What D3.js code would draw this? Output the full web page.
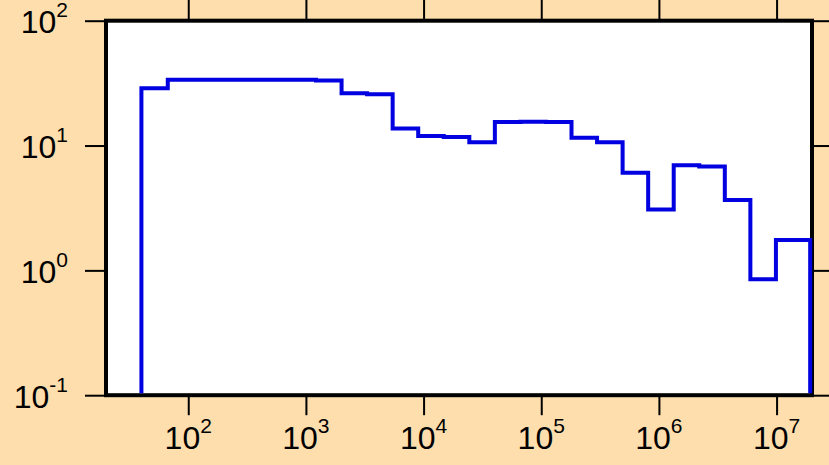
<!DOCTYPE html>
<html>
<head>
<meta charset="utf-8">
<script src="https://cdn.jsdelivr.net/npm/d3@7"></script>
<style>
  html, body { margin: 0; padding: 0; background: #fddeac; }
  svg { display: block; }
  text { font-family: "Liberation Sans", Arial, sans-serif; fill: #000; }
</style>
</head>
<body>
<svg id="chart" width="829" height="465"></svg>
<script>
// bin edges (x) and histogram heights (y)
const binEdges = [40, 67, 1218, 2009, 3312, 5460, 9002, 14841, 24469, 40343, 66514,
    109663, 180804, 298096, 491477, 810308, 1335973, 2202646, 3631550, 5987414,
    9871577, 19300000];
const binCounts = [28.8, 33.7, 33.2, 26.2, 25.8, 13.7, 11.9, 11.7, 10.6, 15.4, 15.5,
    15.4, 11.55, 10.6, 6.05, 3.08, 6.95, 6.8, 3.66, 0.847, 1.75];

const xTicks = [1e2, 1e3, 1e4, 1e5, 1e6, 1e7];
const yTicks = [1e-1, 1e0, 1e1, 1e2];

const svg = d3.select("#chart"),
    width = +svg.attr("width"),
    height = +svg.attr("height");

const plotL = 106, plotR = 812, plotT = 20.7, plotB = 395.2;

const x = d3.scaleLog().domain([20, 2e7]).range([plotL, plotR]);
const y = d3.scaleLog().domain([0.1, 100]).range([plotB, plotT]);

svg.append("rect")
    .attr("width", width).attr("height", height)
    .attr("fill", "#fddeac");

// plot area
svg.append("rect")
    .attr("x", plotL).attr("y", plotT)
    .attr("width", plotR - plotL).attr("height", plotB - plotT)
    .attr("fill", "#fff");

// tick marks on all four sides, pointing outwards
function tickStyle(g) {
    g.select(".domain").remove();
    g.selectAll(".tick line").attr("stroke", "#000").attr("stroke-width", 2);
    g.selectAll(".tick text").remove();
}
svg.append("g").attr("transform", "translate(0," + plotB + ")")
    .call(d3.axisBottom(x).tickValues(xTicks).tickSize(20)).call(tickStyle);
svg.append("g").attr("transform", "translate(0," + plotT + ")")
    .call(d3.axisTop(x).tickValues(xTicks).tickSize(22)).call(tickStyle);
svg.append("g").attr("transform", "translate(" + plotL + ",0)")
    .call(d3.axisLeft(y).tickValues(yTicks).tickSize(21)).call(tickStyle);
svg.append("g").attr("transform", "translate(" + plotR + ",0)")
    .call(d3.axisRight(y).tickValues(yTicks).tickSize(20)).call(tickStyle);

// tick labels as 10^n
function powLabel(sel) {
    sel.append("tspan").attr("font-size", 32).text("10");
    sel.append("tspan").attr("font-size", 21).attr("dy", -16)
        .text(d => Math.round(Math.log10(d)));
}
svg.append("g").selectAll("text")
    .data(xTicks).join("text")
    .attr("x", d => x(d)).attr("y", 449)
    .attr("text-anchor", "middle")
    .call(powLabel);
svg.append("g").selectAll("text")
    .data(yTicks).join("text")
    .attr("x", 68).attr("y", d => y(d) + 12.5)
    .attr("text-anchor", "end")
    .call(powLabel);

// frame
svg.append("rect")
    .attr("x", plotL).attr("y", plotT)
    .attr("width", plotR - plotL).attr("height", plotB - plotT)
    .attr("fill", "none").attr("stroke", "#000").attr("stroke-width", 4);

// step histogram
const pts = [[binEdges[0], 0.1]];
binCounts.forEach((c, i) => pts.push([binEdges[i], c]));
pts.push([binEdges[binEdges.length - 1], binCounts[binCounts.length - 1]]);
pts.push([binEdges[binEdges.length - 1], 0.1]);

svg.append("clipPath").attr("id", "clip")
    .append("rect").attr("x", 0).attr("y", 0).attr("width", width).attr("height", plotB - 2);

const line = d3.line()
    .x(d => x(d[0]))
    .y(d => y(d[1]))
    .curve(d3.curveStepAfter);

svg.append("path")
    .datum(pts)
    .attr("clip-path", "url(#clip)")
    .attr("d", line)
    .attr("fill", "none")
    .attr("stroke", "#0000e0")
    .attr("stroke-width", 4)
    .attr("stroke-linejoin", "miter");
</script>
</body>
</html>
